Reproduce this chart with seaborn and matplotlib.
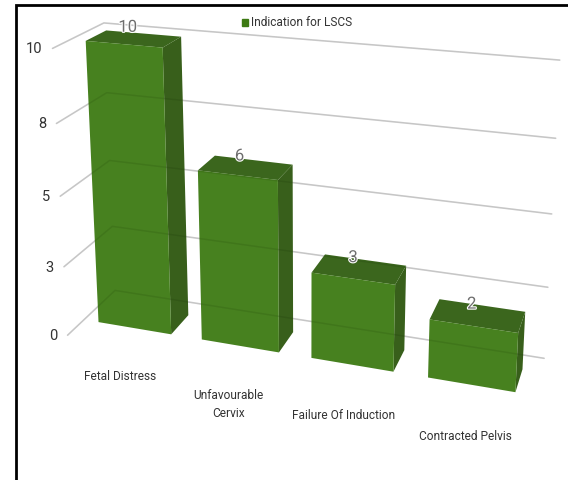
import numpy as np
import matplotlib
matplotlib.use("Agg")
import matplotlib.pyplot as plt
import matplotlib.patheffects as pe
from matplotlib.transforms import Transform, Affine2D
import seaborn as sns

# ---- data ----
categories = ["Fetal Distress", "Unfavourable\nCervix", "Failure Of Induction", "Contracted Pelvis"]
values = [10, 6, 3, 2]
tick_values = [0, 2.5, 5, 7.5, 10]
tick_labels = ["0", "3", "5", "8", "10"]
series_name = "Indication for LSCS"

# ---- style ----
W, H = 568, 480
FRONT, SIDE, TOP = "#3d7a13", "#315a13", "#346115"
BAR_W = 0.71
D_FRONT, D_BACK = 0.33, 0.74
FONT = ["Roboto", "Liberation Sans", "DejaVu Sans"]

# perspective camera, calibrated on the corners of the chart's box (x, y, depth) -> pixel
CALIB = [
    ((-0.5, 0, 0), (68, 335)), ((-0.5, 10, 0), (53, 48)),
    ((-0.5, 0, 1), (115, 290)), ((-0.5, 10, 1), (105, 22)),
    ((3.5, 0, 1), (544, 358)), ((3.5, 10, 1), (560, 60)),
    ((-0.355, 0, D_FRONT), (98, 323)), ((-0.355, 10, D_FRONT), (85, 41)),
    ((3.355, 0, D_FRONT), (516, 392)), ((3.355, 2, D_FRONT), (518, 332)),
    ((3.355, 2, D_BACK), (525, 313)), ((0.355, 10, D_BACK), (180, 38)),
]
A, b = [], []
for (x, y, d), (u, v) in CALIB:
    A.append([x, y, d, 1, 0, 0, 0, 0, -u * x, -u * y, -u * d]); b.append(u)
    A.append([0, 0, 0, 0, x, y, d, 1, -v * x, -v * y, -v * d]); b.append(v)
m = np.linalg.lstsq(np.array(A, float), np.array(b, float), rcond=None)[0]
CAM = np.append(m, 1).reshape(3, 4)


def project(x, y, d):
    x, y, d = np.broadcast_arrays(np.asarray(x, float), np.asarray(y, float), np.asarray(d, float))
    p = np.stack([x, y, d, np.ones_like(x)], axis=0)
    q = CAM @ p.reshape(4, -1)
    return (q[0] / q[2]).reshape(x.shape), (q[1] / q[2]).reshape(x.shape)


class FrontPlane(Transform):
    """Maps the bar plot's (category, value) plane at a fixed depth onto the canvas."""
    input_dims = output_dims = 2
    is_affine = False
    has_inverse = False

    def __init__(self, plane_depth):
        super().__init__()
        self.plane_depth = plane_depth

    def transform_non_affine(self, xy):
        xy = np.asarray(xy, float)
        u, v = project(xy[:, 0], xy[:, 1], self.plane_depth)
        return np.column_stack([u, H - v])


sns.set_theme(style="white")
plt.rcParams["font.family"] = FONT
fig = plt.figure(figsize=(W / 100, H / 100), dpi=100, facecolor="white")
ax = fig.add_axes([0, 0, 1, 1])
pix = Affine2D().scale(1, -1).translate(0, H)

sns.barplot(x=list(range(len(values))), y=values, ax=ax, color=FRONT, width=BAR_W,
            saturation=1, label=series_name, native_scale=True, legend=False, zorder=5)
ax.set_axis_off()
ax.set_xlim(-0.5, 3.5)
ax.set_ylim(0, 10)

# bars: seaborn's rectangles, projected; then their side and top faces
plane = FrontPlane(D_FRONT)
for rect, val in zip(ax.patches, values):
    rect.set_transform(plane)
    rect.set_clip_on(False)
    rect.set_alpha(0.95)
    rect.set_linewidth(0)
    x1 = rect.get_x() + rect.get_width()
    x0 = rect.get_x()
    u, v = project([x1, x1, x1, x1], [0, val, val, 0], [D_FRONT, D_FRONT, D_BACK, D_BACK])
    ax.fill(u, v, color=SIDE, alpha=0.97, lw=0, transform=pix, zorder=4, clip_on=False)
    u, v = project([x0, x1, x1, x0], [val] * 4, [D_FRONT, D_FRONT, D_BACK, D_BACK])
    ax.fill(u, v, color=TOP, alpha=0.97, lw=0, transform=pix, zorder=4, clip_on=False)
    u, v = project(x0 + rect.get_width() / 2, val, (D_FRONT + D_BACK) / 2)
    ax.text(float(u) - 6, float(v) - 11.5, str(val), transform=pix, ha="center", va="center",
            fontsize=12, color="#6e6e6e", zorder=8,
            path_effects=[pe.withStroke(linewidth=1.6, foreground="white")])

# grid lines on the left wall and back wall
for tv, tl in zip(tick_values, tick_labels):
    u, v = project([-0.5, -0.5, 3.5], [tv] * 3, [0, 1, 1])
    ax.plot(u, v, color="#d6d6d6", lw=1.2, transform=pix, zorder=2, clip_on=False)
    ax.plot(u, v, color="black", alpha=0.07, lw=1.0, transform=pix, zorder=6, clip_on=False)
    ax.text(float(u[0]) - 10, float(v[0]) + 1, tl, transform=pix, ha="right", va="center",
            fontsize=10.5, color="#333333", zorder=8)

# category labels
for i, cat in enumerate(categories):
    u, v = project(i, 0, 0)
    ax.text(float(u) + 1.5, float(v) + 26, cat, transform=pix, ha="center", va="top",
            fontsize=8.6, color="#333333", linespacing=1.5, zorder=8)

# legend
handles = [plt.Rectangle((0, 0), 1, 1, color=FRONT)]
fig.legend(handles, [series_name], loc="center", bbox_to_anchor=(297 / W, 1 - 23 / H), frameon=False,
           fontsize=8.6, handlelength=0.5, handleheight=0.5, handletextpad=0.25,
           labelcolor="#333333", borderpad=0)

# picture frame, cropped at the right and bottom of the image
ax.plot([15.5, 15.5, W + 2], [H + 2, 5, 5], color="black", lw=2, transform=pix, zorder=9,
        clip_on=False, solid_joinstyle="miter")

fig.savefig("out.png", dpi=100, facecolor="white")
